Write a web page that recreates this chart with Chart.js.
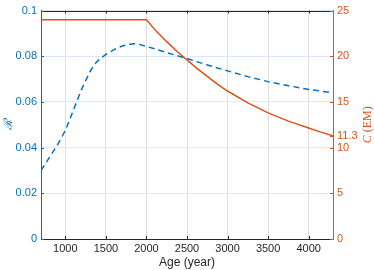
<!DOCTYPE html>
<html>
<head>
<meta charset="utf-8">
<script src="https://cdn.jsdelivr.net/npm/chart.js@4.4.1/dist/chart.umd.min.js"></script>
<style>
  html, body { margin: 0; padding: 0; background: #fff; }
  #wrap { width: 374px; height: 270px; }
</style>
</head>
<body>
<div id="wrap"><canvas id="chart" width="374" height="270"></canvas></div>
<script>
// ratio curve (left axis, dashed)
const ageR = [700, 800, 900, 1000, 1100, 1200, 1300, 1350, 1400, 1450, 1500, 1600, 1700, 1800, 1850, 1900, 2000, 2100, 2250, 2500, 2750, 3000, 3250, 3500, 3750, 4000, 4300];
const ratioR = [0.030, 0.0355, 0.041, 0.0475, 0.0565, 0.0655, 0.0730, 0.0760, 0.0780, 0.0795, 0.0808, 0.0829, 0.0845, 0.0853, 0.0855, 0.0853, 0.0843, 0.0833, 0.0816, 0.0790, 0.0762, 0.0736, 0.0711, 0.0689, 0.0671, 0.0655, 0.0640];

// concentration curve (right axis, solid)
const ageC = [700, 2000, 2125, 2250, 2375, 2500, 2625, 2750, 2875, 3000, 3250, 3500, 3750, 4000, 4150, 4300];
const conc = [24, 24, 22.7, 21.6, 20.55, 19.6, 18.65, 17.8, 16.95, 16.2, 14.9, 13.8, 12.9, 12.15, 11.7, 11.3];

const xTicks = [1000, 1500, 2000, 2500, 3000, 3500, 4000];
const leftTicks = [0, 0.02, 0.04, 0.06, 0.08, 0.1];
const rightTicks = [0, 5, 10, 11.3, 15, 20, 25];

const BLUE = '#0072BD';
const ORANGE = '#D95319';
const DARK = '#262626';
const FONT = { family: '"Liberation Sans", Arial, sans-serif', size: 11 };
const TITLE_FONT = { family: '"Liberation Sans", Arial, sans-serif', size: 12 };

const setTicks = (list) => (scale) => { scale.ticks = list.map(v => ({ value: v })); };

// inside ticks, box top edge and axis titles
const decorations = {
  id: 'decorations',
  afterDraw(chart) {
    const ctx = chart.ctx;
    const { left, right, top, bottom } = chart.chartArea;
    const x = chart.scales.x, y = chart.scales.y, y1 = chart.scales.y1;
    const len = 3;
    ctx.save();
    ctx.lineWidth = 1;

    ctx.strokeStyle = DARK;
    ctx.beginPath();
    ctx.moveTo(left, Math.round(top) + 0.5);
    ctx.lineTo(right, Math.round(top) + 0.5);
    ctx.stroke();
    xTicks.forEach(v => {
      const px = Math.round(x.getPixelForValue(v)) + 0.5;
      ctx.beginPath();
      ctx.moveTo(px, bottom); ctx.lineTo(px, bottom - len);
      ctx.moveTo(px, top); ctx.lineTo(px, top + len);
      ctx.stroke();
    });

    ctx.strokeStyle = BLUE;
    leftTicks.forEach(v => {
      const py = Math.round(y.getPixelForValue(v)) + 0.5;
      ctx.beginPath();
      ctx.moveTo(left, py); ctx.lineTo(left + len, py);
      ctx.stroke();
    });

    ctx.strokeStyle = ORANGE;
    rightTicks.forEach(v => {
      const py = Math.round(y1.getPixelForValue(v)) + 0.5;
      ctx.beginPath();
      ctx.moveTo(right, py); ctx.lineTo(right - len, py);
      ctx.stroke();
    });

    const midY = (top + bottom) / 2;

    // left title
    ctx.save();
    ctx.translate(9, midY);
    ctx.rotate(-Math.PI / 2);
    ctx.fillStyle = BLUE;
    ctx.font = 'italic 12px "DejaVu Serif", serif';
    ctx.textAlign = 'center';
    ctx.textBaseline = 'middle';
    ctx.fillText('\u211B', 0, 0);
    ctx.restore();

    // right title
    ctx.save();
    ctx.translate(368, midY);
    ctx.rotate(-Math.PI / 2);
    ctx.fillStyle = ORANGE;
    ctx.textBaseline = 'middle';
    ctx.textAlign = 'left';
    ctx.font = 'italic 12px "Liberation Serif", serif';
    const w1 = ctx.measureText('C').width + 3;
    ctx.font = '12px "Liberation Serif", serif';
    const w2 = ctx.measureText('(EM)').width;
    const start = -(w1 + w2) / 2;
    ctx.font = 'italic 12px "Liberation Serif", serif';
    ctx.fillText('C', start, 0);
    ctx.font = '12px "Liberation Serif", serif';
    ctx.fillText('(EM)', start + w1, 0);
    ctx.restore();

    ctx.restore();
  }
};

new Chart(document.getElementById('chart'), {
  type: 'line',
  data: {
    datasets: [
      {
        label: 'C',
        data: ageC.map((a, i) => ({ x: a, y: conc[i] })),
        yAxisID: 'y1',
        borderColor: ORANGE,
        borderWidth: 1.5,
        pointRadius: 0,
        tension: 0,
        fill: false,
      },
      {
        label: 'R',
        data: ageR.map((a, i) => ({ x: a, y: ratioR[i] })),
        yAxisID: 'y',
        borderColor: BLUE,
        borderWidth: 1.5,
        borderDash: [6, 4],
        pointRadius: 0,
        tension: 0,
        fill: false,
      },
    ],
  },
  options: {
    responsive: false,
    animation: false,
    devicePixelRatio: 1,
    layout: { padding: { top: 8, left: 0, right: 0, bottom: 0 } },
    plugins: {
      legend: { display: false },
      tooltip: { enabled: false },
    },
    scales: {
      x: {
        type: 'linear',
        position: 'bottom',
        min: 700,
        max: 4300,
        afterBuildTicks: setTicks(xTicks),
        afterFit: (s) => { s.height = 31; },
        grid: { color: '#dfdfdf', drawTicks: false },
        border: { color: DARK },
        ticks: { color: DARK, font: FONT, padding: 3, maxRotation: 0, callback: (v) => String(v) },
        title: { display: true, text: 'Age (year)', color: DARK, font: TITLE_FONT, padding: 0 },
      },
      y: {
        type: 'linear',
        position: 'left',
        min: 0,
        max: 0.1,
        afterBuildTicks: setTicks(leftTicks),
        afterFit: (s) => { s.width = 41; },
        grid: { color: '#dae9f5', drawTicks: false },
        border: { color: BLUE },
        ticks: { color: BLUE, font: FONT, padding: 4, callback: (v) => String(v) },
      },
      y1: {
        type: 'linear',
        position: 'right',
        min: 0,
        max: 25,
        afterBuildTicks: setTicks(rightTicks),
        afterFit: (s) => { s.width = 41; },
        grid: { display: false, drawTicks: false },
        border: { color: ORANGE },
        ticks: { color: ORANGE, font: FONT, padding: 4, callback: (v) => String(v) },
      },
    },
  },
  plugins: [decorations],
});
</script>
</body>
</html>
